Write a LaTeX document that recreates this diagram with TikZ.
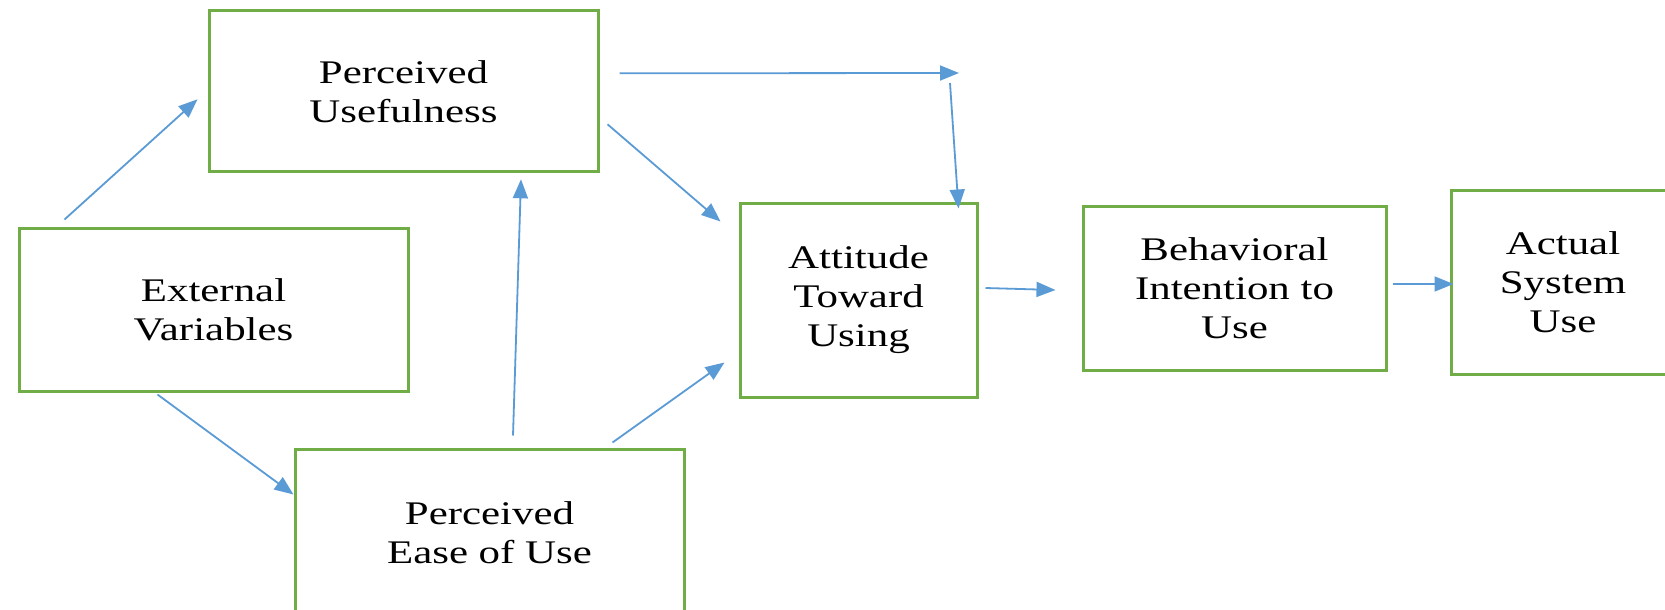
\documentclass[tikz,border=0pt]{standalone}
\usepackage{fontspec}
\setmainfont[FakeStretch=1.3]{Liberation Serif}
\usetikzlibrary{arrows.meta}
\definecolor{boxgreen}{RGB}{112,173,71}
\definecolor{linkblue}{RGB}{91,155,213}

\begin{document}
\begin{tikzpicture}[x=1pt, y=-1pt,
        box/.style={draw=boxgreen, line width=3pt, align=center, inner sep=0pt,
            font=\fontsize{33}{39}\selectfont},
        link/.style={draw=linkblue, line width=1.8pt, -{Triangle[length=19pt,width=15pt]}}]
        \clip (0, 0) rectangle (1665, 610);
        \fill[white] (0, 0) rectangle (1665, 610);
        % boxes
        \node[box, minimum width=389pt, minimum height=161pt] (pu) at (403.5, 91.3) {Perceived\\Usefulness};
        \node[box, minimum width=389pt, minimum height=163pt] (ev) at (213.5, 309.5) {External\\Variables};
        \node[box, minimum width=389pt, minimum height=168pt] (peou) at (489.5, 533) {Perceived\\Ease of Use};
        \node[box, minimum width=237pt, minimum height=194pt] (atu) at (858.5, 300) {Attitude\\Toward\\Using};
        \node[box, minimum width=303pt, minimum height=164pt] (bi) at (1234.5, 288) {Behavioral\\Intention to\\Use};
        \node[box, minimum width=224pt, minimum height=184pt] (asu) at (1563, 282) {Actual\\System\\Use};
        \coordinate (relay) at (954, 73);
        % arrows
        \draw[link] ([shift={(47,-7)}]ev.north west) -- ([shift={(-10,8)}]pu.west);
        \draw[link] ([shift={(140,2)}]ev.south west) -- ([shift={(0,47)}]peou.north west);
        \draw[link] ([shift={(23.5,-12)}]peou.north) -- ([shift={(117.5,6)}]pu.south);
        \draw[link] ([shift={(-73,-5)}]peou.north east) -- ([shift={(-14,-36)}]atu.south west);
        \draw[link] ([shift={(8,33)}]pu.east) -- ([shift={(-18,20)}]atu.north west);
        \draw[link] ([shift={(20,-18)}]pu.east) -- ([xshift=5pt]relay);
        \draw[link] ([shift={(-4,10)}]relay) -- ([shift={(-20,7)}]atu.north east);
        \draw[link] ([shift={(7,-12)}]atu.east) -- ([shift={(-26,2)}]bi.west);
        \draw[link] ([shift={(5,-4)}]bi.east) -- ([shift={(4,2)}]asu.west);
    \end{tikzpicture}
\end{document}
